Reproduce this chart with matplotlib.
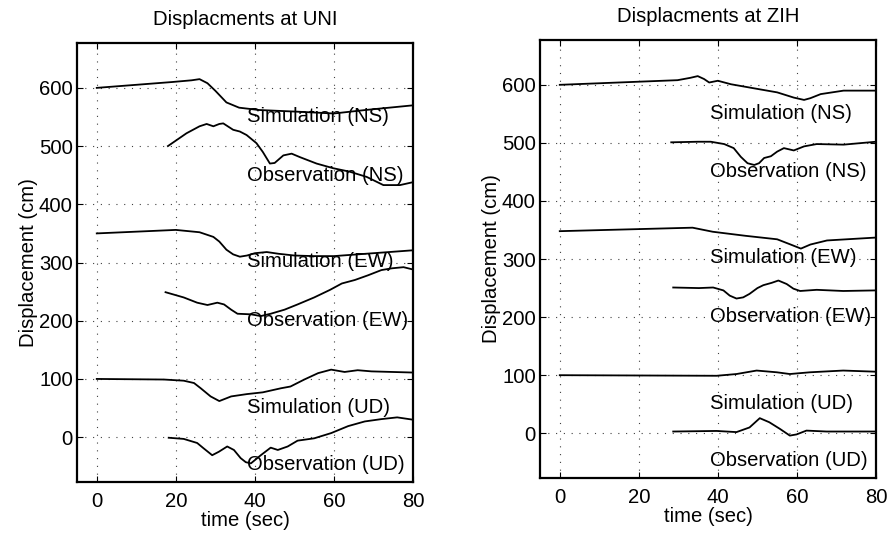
import numpy as np
import matplotlib
matplotlib.use('Agg')
import matplotlib.pyplot as plt

plt.rcParams['font.family'] = ['Liberation Sans', 'DejaVu Sans']

# ---- data (time in sec, displacement in cm, offsets included) ----
# station UNI
uni_sim_ns_t = [0, 19, 24, 26, 28, 30, 32.8, 36, 41, 51, 60, 68, 74, 80]
uni_sim_ns_d = [600, 610, 613, 615, 608, 595, 575, 566, 562, 559, 556, 562, 566, 570]
uni_obs_ns_t = [18, 22.7, 26, 27.8, 29.5, 31, 32, 34.5, 36.2, 37.9, 40.4, 42, 43.8, 45,
                47.2, 49.3, 51.4, 55.6, 59.8, 64, 68.3, 72.5, 76.7, 80]
uni_obs_ns_d = [500, 522, 534, 538, 534, 538, 539, 528, 525, 519, 505, 490, 470, 471,
                484, 487, 481, 470, 462, 456, 447, 433, 433, 438]
uni_sim_ew_t = [0, 20, 26, 29.5, 31, 32.8, 34.5, 36.2, 38, 40, 43, 46, 50, 55, 60, 68, 74, 80]
uni_sim_ew_d = [350, 356, 352, 344, 336, 322, 314, 310, 312, 316, 318, 315, 312, 311, 311, 315, 318, 321]
uni_obs_ew_t = [17.4, 22, 25.4, 28, 30.5, 32.2, 34, 35.6, 39, 41.5, 44, 47.5, 50.8,
                55, 59, 62, 65.3, 68.6, 72, 74.6, 77.6, 80]
uni_obs_ew_d = [249, 240, 231, 227, 231, 228, 219, 212, 211, 208, 212, 219, 228,
                240, 253, 264, 270, 278, 287, 290, 292, 288]
uni_sim_ud_t = [0, 17, 22, 24.6, 26.3, 28.8, 31, 34, 38, 42, 46.6, 49, 52.5, 56,
                59.3, 62.7, 66, 69.5, 80]
uni_sim_ud_d = [100, 99, 97, 93, 84, 70, 62, 70, 74, 77, 84, 87, 99, 110,
                116, 112, 115, 113, 111]
uni_obs_ud_t = [18.2, 22, 25.4, 27, 29.2, 30.9, 33, 34.7, 36.4, 37.7, 39, 41.5, 44,
                45.8, 48.3, 50.8, 55, 59.3, 63.6, 67.8, 72, 76, 80]
uni_obs_ud_d = [-1, -3, -10, -19, -31, -25, -16, -22, -36, -43, -45, -31, -18,
                -22, -16, -6, -2, 7, 19, 27, 31, 34, 30]

# station ZIH
zih_sim_ns_t = [0, 29.8, 33, 34.9, 36.5, 37.8, 40, 43.3, 50.8, 55, 59.2, 61.8, 63.4, 66, 71.8, 80]
zih_sim_ns_d = [600, 608, 612, 615, 610, 604, 607, 601, 592, 587, 578, 574, 577, 584, 590, 590]
zih_obs_ns_t = [28.2, 34.9, 38.2, 41.6, 44, 45.8, 47.5, 49.2, 50.4, 51.7, 53.4, 55,
                56.7, 59.2, 61.8, 65, 71.8, 80]
zih_obs_ns_d = [501, 502, 502, 498, 491, 476, 465, 462, 465, 474, 477, 485,
                491, 487, 494, 498, 497, 502]
zih_sim_ew_t = [0, 33.6, 38.7, 47, 55, 58.4, 61, 63.4, 67.6, 80]
zih_sim_ew_d = [348, 354, 347, 340, 334, 325, 318, 325, 332, 337]
zih_obs_ew_t = [28.7, 35.2, 38.8, 41.4, 43, 44.7, 46.4, 48, 50, 51.5, 53.6, 55.3,
                57.4, 59.1, 60.8, 65, 71.7, 80]
zih_obs_ew_d = [251, 250, 251, 246, 237, 232, 234, 240, 250, 255, 259, 263,
                257, 249, 245, 247, 245, 246]
zih_sim_ud_t = [0, 39.7, 44.7, 49.8, 54.9, 58.2, 63.3, 71.7, 80]
zih_sim_ud_d = [100, 99, 102, 108, 105, 102, 105, 108, 106]
zih_obs_ud_t = [28.7, 39.7, 44.7, 48, 50.6, 53, 55.7, 58.2, 59.9, 62.4, 67.5, 80]
zih_obs_ud_d = [3, 4, 2, 10, 26, 19, 7.5, -4, -2, 4.6, 3, 3]

labels = ['Simulation (NS)', 'Observation (NS)', 'Simulation (EW)',
          'Observation (EW)', 'Simulation (UD)', 'Observation (UD)']
label_y = [550, 450, 302, 201, 51, -47]
label_x = 38

stations = [
    ('Displacments at UNI',
     [(uni_sim_ns_t, uni_sim_ns_d), (uni_obs_ns_t, uni_obs_ns_d),
      (uni_sim_ew_t, uni_sim_ew_d), (uni_obs_ew_t, uni_obs_ew_d),
      (uni_sim_ud_t, uni_sim_ud_d), (uni_obs_ud_t, uni_obs_ud_d)]),
    ('Displacments at ZIH',
     [(zih_sim_ns_t, zih_sim_ns_d), (zih_obs_ns_t, zih_obs_ns_d),
      (zih_sim_ew_t, zih_sim_ew_d), (zih_obs_ew_t, zih_obs_ew_d),
      (zih_sim_ud_t, zih_sim_ud_d), (zih_obs_ud_t, zih_obs_ud_d)]),
]

# ---- figure ----
fig = plt.figure(figsize=(8.88, 5.34), dpi=100)
boxes = [[0.0867, 0.0974, 0.3784, 0.822],
         [0.6081, 0.1049, 0.3784, 0.820]]
fs = 14.6

for box, (title, curves) in zip(boxes, stations):
    ax = fig.add_axes(box)
    for t, d in curves:
        ax.plot(t, d, color='black', lw=1.3)
    for txt, y in zip(labels, label_y):
        ax.text(label_x, y, txt, fontsize=fs, ha='left', va='center')

    ax.set_xlim(-5, 80)
    ax.set_ylim(-77, 677)
    ax.set_xticks([0, 20, 40, 60, 80])
    ax.set_yticks([0, 100, 200, 300, 400, 500, 600])
    ax.grid(True, color='0.25', lw=0.8, linestyle=(0, (1, 6)))
    ax.tick_params(direction='in', length=4, top=True, right=True, labelsize=fs)
    ax.tick_params(axis='x', pad=7)
    ax.tick_params(axis='y', pad=3)
    for sp in ax.spines.values():
        sp.set_linewidth(1.6)
    ax.set_title(title, fontsize=fs, pad=13)
    ax.set_xlabel('time (sec)', fontsize=fs, labelpad=0)
    ax.set_ylabel('Displacement (cm)', fontsize=fs, labelpad=1)

plt.savefig('out.png', dpi=100)
